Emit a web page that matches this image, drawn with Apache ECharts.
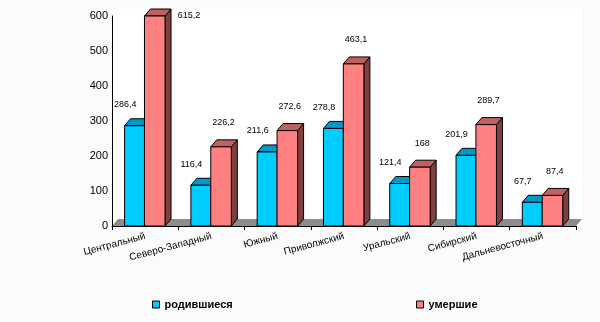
<!DOCTYPE html>
<html><head><meta charset="utf-8">
<script src="https://cdn.jsdelivr.net/npm/echarts@6/dist/echarts.min.js"></script>
<style>html,body{margin:0;padding:0;background:#fbfbfb}#c{width:600px;height:322px}</style>
</head><body><div id="c"></div>
<script>
const categories = ['Центральный','Северо-Западный','Южный','Приволжский','Уральский','Сибирский','Дальневосточный'];
const births = [286.4, 116.4, 211.6, 278.8, 121.4, 201.9, 67.7];
const deaths = [615.2, 226.2, 272.6, 463.1, 168, 289.7, 87.4];
const yTicks = [0, 100, 200, 300, 400, 500, 600];
const seriesNames = ['родившиеся', 'умершие'];

const FONT = '"Liberation Sans", Arial, sans-serif';
const yMin = yTicks[0], yMax = yTicks[yTicks.length - 1];
const DX = 6, DY = 7;
const fmt = v => String(v).replace('.', ',');

function makeBar(offFrac, wFrac, cFront, cTop, cSide, lblDx, lblDy) {
  return function (params, api) {
    const idx = api.value(0), v = api.value(1);
    const vc = Math.min(v, yMax);
    const base = api.coord([idx, 0]);
    const tp = api.coord([idx, vc]);
    const bw = api.size([1, 0])[0];
    const x0 = base[0] + offFrac * bw, w = wFrac * bw;
    const yb = base[1], yt = tp[1];
    const st = c => ({ fill: c, stroke: '#000', lineWidth: 1 });
    let lx = base[0] + lblDx, ly = yt + lblDy;
    if (v > yMax) { lx = x0 + w + 24; ly = yt; }
    return {
      type: 'group',
      children: [
        { type: 'polygon', shape: { points: [[x0 + w, yt], [x0 + w + DX, yt - DY], [x0 + w + DX, yb - DY], [x0 + w, yb]] }, style: st(cSide) },
        { type: 'polygon', shape: { points: [[x0, yt], [x0 + w, yt], [x0 + w + DX, yt - DY], [x0 + DX, yt - DY]] }, style: st(cTop) },
        { type: 'rect', shape: { x: x0, y: yt, width: w, height: yb - yt }, style: st(cFront) },
        { type: 'text', style: { text: fmt(v), x: lx, y: ly, align: 'center', verticalAlign: 'middle', font: '9px ' + FONT, fill: '#000' } }
      ]
    };
  };
}

function floorItem(params, api) {
  const bw = api.size([1, 0])[0];
  const b0 = api.coord([0, 0]);
  const b1 = api.coord([categories.length - 1, 0]);
  const top = api.coord([0, yMax])[1];
  const left = b0[0] - bw / 2, right = b1[0] + bw / 2, yb = b0[1];
  return {
    type: 'group',
    children: [
      { type: 'rect', shape: { x: left + 1, y: top - DY, width: right + DX - left - 1, height: yb - top + DY }, style: { fill: '#ffffff' } },
      { type: 'polygon', shape: { points: [[left, yb], [right, yb], [right + DX, yb - DY], [left + DX, yb - DY]] }, style: { fill: '#8c8c8c' } }
    ]
  };
}

const chart = echarts.init(document.getElementById('c'), null, { renderer: 'canvas' });
chart.setOption({
  animation: false,
  backgroundColor: '#fbfbfb',
  grid: { left: 112, right: 24, top: 16, bottom: 96, containLabel: false },
  xAxis: {
    type: 'category', data: categories, z: 5,
    axisLine: { lineStyle: { color: '#000', width: 1 } },
    axisTick: { show: true, length: 4, lineStyle: { color: '#000' } },
    axisLabel: { interval: 0, rotate: 15, margin: 10, color: '#000', fontSize: 10, fontFamily: FONT }
  },
  yAxis: {
    type: 'value', min: yMin, max: yMax, interval: yTicks[1] - yTicks[0], z: 5,
    axisLine: { show: true, lineStyle: { color: '#000', width: 1 } },
    axisTick: { show: false },
    splitLine: { show: false },
    axisLabel: { margin: 4, color: '#000', fontSize: 11, fontFamily: FONT }
  },
  legend: [
    { data: [seriesNames[0]], left: 152, top: 299, padding: 0, icon: 'rect', itemWidth: 7, itemHeight: 7,
      itemStyle: { borderColor: '#000', borderWidth: 1 }, textStyle: { fontSize: 11, fontWeight: 'bold', color: '#000', fontFamily: FONT } },
    { data: [seriesNames[1]], left: 416, top: 299, padding: 0, icon: 'rect', itemWidth: 7, itemHeight: 7,
      itemStyle: { borderColor: '#000', borderWidth: 1 }, textStyle: { fontSize: 11, fontWeight: 'bold', color: '#000', fontFamily: FONT } }
  ],
  series: [
    { type: 'custom', name: 'floor', z: 1, silent: true, clip: false, data: [[0, 0]], renderItem: floorItem },
    { type: 'custom', name: seriesNames[0], z: 2, clip: false, itemStyle: { color: '#00ccff' },
      encode: { x: 0, y: 1 }, data: births.map((v, i) => [i, v]),
      renderItem: makeBar(-0.31, 0.30, '#00ccff', '#0099cc', '#006680', -20, -21) },
    { type: 'custom', name: seriesNames[1], z: 3, clip: false, itemStyle: { color: '#ff8080' },
      encode: { x: 0, y: 1 }, data: deaths.map((v, i) => [i, v]),
      renderItem: makeBar(-0.01, 0.31, '#ff8080', '#c06060', '#804040', 12, -24) }
  ]
});
</script></body></html>
